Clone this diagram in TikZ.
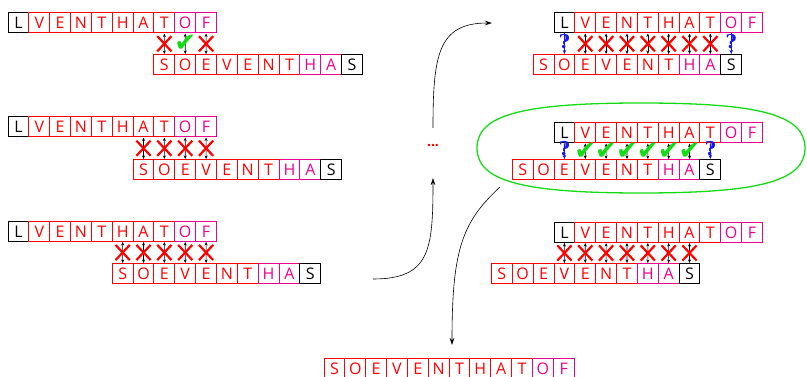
\documentclass[tikz,border=0pt]{standalone}
\usepackage{fontspec}
\setmainfont{Open Sans}
\newfontfamily\symfont{DejaVu Sans}
\newfontfamily\askfont{DejaVu Serif}
\usetikzlibrary{arrows.meta,shapes.misc}

% one row of letter cells, named <name>-0, <name>-1, ...
\newcommand{\cellrow}[4]{%
  \foreach \ch/\col [count=\i from 0] in #4
    \node[cell, draw=\col, text=\col] (#1-\i) at ({#2+(\i+0.5)*20.85}, #3) {\ch};}

\newcommand{\toprow}{L/black, V/red, E/red, N/red, T/red, H/red, A/red, T/red, O/magenta, F/magenta}
\newcommand{\botrow}{S/red, O/red, E/red, V/red, E/red, N/red, T/red, H/magenta, A/magenta, S/black}
\newcommand{\joinrow}{S/red, O/red, E/red, V/red, E/red, N/red, T/red, H/red, A/red, T/red, O/magenta, F/magenta}

\begin{document}
\begin{tikzpicture}[x=1pt, y=-1pt,
    cell/.style={minimum width=20.85pt, minimum height=20pt, inner sep=0pt, line width=1pt,
                 font=\fontsize{16}{16}\selectfont},
    link/.style={black, line width=0.6pt, {Stealth[length=3.5pt,width=3pt]}-{Stealth[length=3.5pt,width=3pt]}},
    nope/.style={cross out, draw=red, line width=2.2pt, minimum width=12pt, minimum height=13pt, inner sep=0pt},
    yes/.style={text=okgreen, font=\symfont\fontsize{26}{26}\selectfont, inner sep=0pt},
    ask/.style={askblue, line width=0.9pt, -{Stealth[length=4pt,width=3.5pt]}},
    qmark/.style={text=askblue, font=\askfont\bfseries\fontsize{19}{19}\selectfont, inner sep=0pt},
    flow/.style={black, line width=0.6pt, -{Stealth[length=7pt,width=4.5pt]}}]

    % Define the colors
    \definecolor{okgreen}{RGB}{20,220,20}
    \definecolor{askblue}{RGB}{25,25,230}

    \useasboundingbox (0,0) rectangle (807,377);

    % the chosen alignment
    \draw[okgreen, line width=1.3pt] (477,148) .. controls (477,115) and (522,103) .. (641,103)
        .. controls (760,103) and (805,115) .. (805,148)
        .. controls (805,181) and (760,193) .. (641,193)
        .. controls (522,193) and (477,181) .. (477,148) -- cycle;

    % left column
    \cellrow{g1t}{8}{23}{\toprow}
    \cellrow{g1b}{153.95}{64.5}{\botrow}
    \cellrow{g2t}{8}{127}{\toprow}
    \cellrow{g2b}{133.1}{169.5}{\botrow}
    \cellrow{g3t}{8}{231.5}{\toprow}
    \cellrow{g3b}{112.25}{273.5}{\botrow}

    % right column
    \cellrow{g4t}{554}{23}{\toprow}
    \cellrow{g4b}{533.15}{64.5}{\botrow}
    \cellrow{g5t}{554}{133}{\toprow}
    \cellrow{g5b}{512.3}{169.5}{\botrow}
    \cellrow{g6t}{554}{232.5}{\toprow}
    \cellrow{g6b}{491.45}{273.5}{\botrow}

    % result
    \cellrow{res}{324}{368.5}{\joinrow}

    % comparisons
    \draw[link] (g1t-7.south) -- (g1b-0.north) node[midway, nope] {};
    \draw[link] (g1t-8.south) -- (g1b-1.north) node[midway, yes] {✔};
    \draw[link] (g1t-9.south) -- (g1b-2.north) node[midway, nope] {};
    \foreach \i in {0,...,3} {
        \pgfmathtruncatemacro\j{\i+6}
        \draw[link] (g2t-\j.south) -- (g2b-\i.north) node[midway, nope] {};
    }
    \foreach \i in {0,...,4} {
        \pgfmathtruncatemacro\j{\i+5}
        \draw[link] (g3t-\j.south) -- (g3b-\i.north) node[midway, nope] {};
    }
    \draw[ask] (g4t-0.south) -- (g4b-1.north) node[pos=.38, qmark] {?};
    \draw[ask] (g4t-8.south) -- (g4b-9.north) node[pos=.38, qmark] {?};
    \foreach \i in {1,...,7} {
        \pgfmathtruncatemacro\j{\i+1}
        \draw[link] (g4t-\i.south) -- (g4b-\j.north) node[midway, nope] {};
    }
    \draw[ask] (g5t-0.south) -- (g5b-2.north) node[pos=.35, qmark] {?};
    \draw[ask] (g5t-7.south) -- (g5b-9.north) node[pos=.35, qmark] {?};
    \foreach \i in {1,...,6} {
        \pgfmathtruncatemacro\j{\i+2}
        \draw[link] (g5t-\i.south) -- (g5b-\j.north) node[midway, yes] {✔};
    }
    \foreach \i in {0,...,6} {
        \pgfmathtruncatemacro\j{\i+3}
        \draw[link] (g6t-\i.south) -- (g6b-\j.north) node[midway, nope] {};
    }

    % flow between the shifts
    \node[text=red, font=\bfseries\fontsize{14}{14}\selectfont, inner sep=0pt] (dots) at (433,146) {...};
    \coordinate (from) at (373,279);
    \coordinate (dotsin) at (433,178);
    \coordinate (dotsout) at (433,128);
    \coordinate (upright) at (492,23);
    \coordinate (rim) at (500,187);
    \coordinate (down) at (452,345);
    \draw[flow] (from) .. controls (430,279) and (433,250) .. (dotsin);
    \draw[flow] (dotsout) .. controls (433,55) and (438,23) .. (upright);
    \draw[flow] (rim) .. controls (462,222) and (452,250) .. (down);

\end{tikzpicture}
\end{document}
